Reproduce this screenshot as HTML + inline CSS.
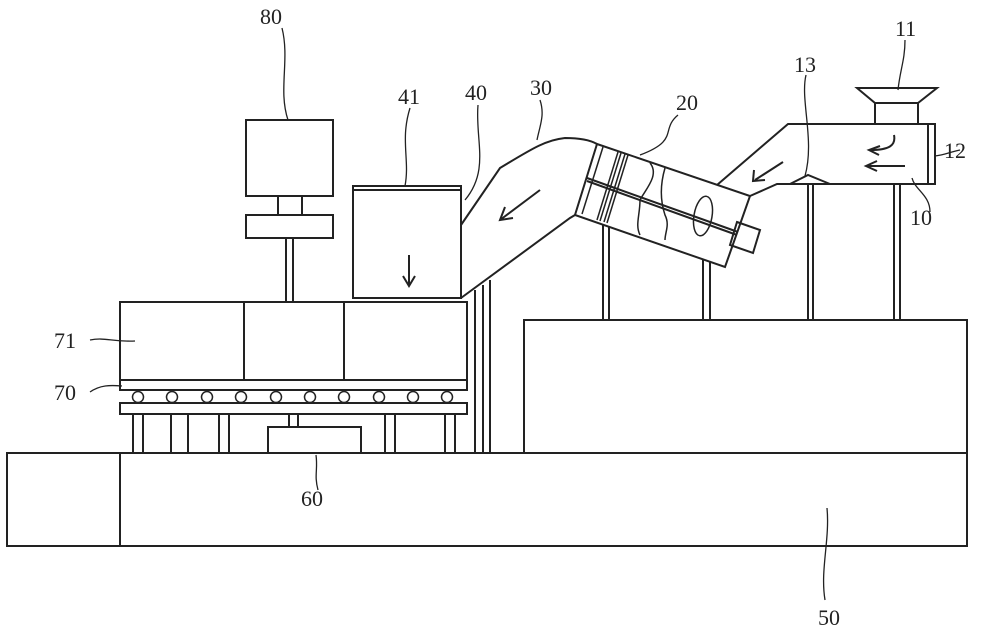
<!DOCTYPE html>
<html><head><style>body{margin:0;background:#fff}svg{display:block}text{font-family:"Liberation Serif",serif;font-size:22px;fill:#222}</style></head><body>
<svg width="1000" height="634" viewBox="0 0 1000 634" fill="none" stroke="#222" stroke-width="2">
<!-- base 50 -->
<rect x="7" y="453" width="960" height="93"/>
<line x1="120" y1="453" x2="120" y2="546"/>
<!-- right platform -->
<rect x="524" y="320" width="443" height="133"/>
<!-- left conveyor assembly -->
<rect x="120" y="302" width="347" height="78"/>
<line x1="244" y1="302" x2="244" y2="380"/><line x1="344" y1="302" x2="344" y2="380"/>
<rect x="120" y="380" width="347" height="10"/>
<g stroke-width="1.5">
<circle cx="138" cy="397" r="5.5"/><circle cx="172" cy="397" r="5.5"/><circle cx="207" cy="397" r="5.5"/><circle cx="241" cy="397" r="5.5"/><circle cx="276" cy="397" r="5.5"/><circle cx="310" cy="397" r="5.5"/><circle cx="344" cy="397" r="5.5"/><circle cx="379" cy="397" r="5.5"/><circle cx="413" cy="397" r="5.5"/><circle cx="447" cy="397" r="5.5"/>
</g>
<rect x="120" y="403" width="347" height="11"/>
<rect x="133" y="414" width="10" height="39"/><rect x="171" y="414" width="17" height="39"/><rect x="219" y="414" width="10" height="39"/><rect x="385" y="414" width="10" height="39"/><rect x="445" y="414" width="10" height="39"/>
<rect x="268" y="427" width="93" height="26"/><rect x="289" y="414" width="9" height="13"/>
<line x1="475" y1="290" x2="475" y2="453"/>
<!-- 80 -->
<rect x="246" y="120" width="87" height="76"/>
<rect x="278" y="196" width="24" height="19"/>
<rect x="246" y="215" width="87" height="23"/>
<rect x="286" y="238" width="7" height="64"/>
<!-- 41 -->
<rect x="353" y="186" width="108" height="112"/>
<line x1="353" y1="190" x2="461" y2="190"/>
<line x1="409" y1="255" x2="409" y2="285"/><polyline points="403,276 409,286 415,276"/>
<!-- duct 30 -->
<path d="M461,225 L500,168 C530,150 545,140 565,138 C580,138 590,140 597,144"/>
<path d="M461,298 L570,218 L575,215"/>
<line x1="461" y1="200" x2="461" y2="298"/>
<line x1="540" y1="190" x2="500" y2="220"/><polyline points="505,207 500,220 513,218"/>
<line x1="483" y1="285" x2="483" y2="453"/><line x1="490" y1="280" x2="490" y2="453"/>
<!-- unit 20 -->
<polygon points="597,144 750,196 725,267 575,215"/>
<line x1="587" y1="178" x2="738" y2="232"/><line x1="587" y1="181" x2="737" y2="235"/>
<g stroke-width="1.5">
<line x1="603" y1="147" x2="582" y2="214"/>
<line x1="618" y1="152" x2="597" y2="220"/><line x1="621" y1="153" x2="600" y2="221"/><line x1="625" y1="154" x2="604" y2="222"/><line x1="628" y1="155" x2="607" y2="223"/>
<path d="M650,163 C660,175 645,190 640,200 C640,215 635,225 640,235"/>
<path d="M665,168 C660,185 660,200 665,215 C670,225 665,232 665,240"/>
<ellipse cx="703" cy="216" rx="9" ry="20" transform="rotate(10 703 216)"/>
</g>
<polygon points="737,222 760,230 753,253 730,245"/>
<!-- legs under 20 -->
<line x1="603" y1="225" x2="603" y2="320"/><line x1="609" y1="227" x2="609" y2="320"/>
<line x1="703" y1="260" x2="703" y2="320"/><line x1="710" y1="262" x2="710" y2="320"/>
<!-- right duct and box 10 -->
<polyline points="717,185 788,124 935,124"/>
<polyline points="750,196 777,184 928,184"/>
<rect x="928" y="124" width="7" height="60"/>
<polygon points="790,184 808,175 830,184"/>
<line x1="783" y1="162" x2="755" y2="180"/><polyline points="754,170 753,181 765,180"/>
<line x1="905" y1="166" x2="867" y2="166"/><polyline points="877,161 866,166 877,171"/>
<path d="M894,135 C896,145 890,150 870,150"/><polyline points="880,146 869,150 879,155"/>
<polyline points="875,124 875,103 918,103 918,124"/>
<polygon points="857,88 937,88 918,103 875,103"/>
<line x1="808" y1="184" x2="808" y2="320"/><line x1="813" y1="184" x2="813" y2="320"/>
<line x1="894" y1="184" x2="894" y2="320"/><line x1="900" y1="184" x2="900" y2="320"/>
<!-- leaders -->
<g stroke-width="1.3">
<path d="M282,28 C290,60 278,90 288,120"/>
<path d="M410,108 C400,140 410,160 405,186"/>
<path d="M478,105 C475,140 490,170 465,200"/>
<path d="M540,100 C545,115 540,125 537,140"/>
<path d="M678,115 C660,130 680,140 640,155"/>
<path d="M806,75 C800,100 815,140 805,176"/>
<path d="M905,40 C905,60 900,70 898,90"/>
<path d="M960,150 C950,152 945,155 935,156"/>
<path d="M912,178 C915,190 930,195 930,212"/>
<path d="M90,340 C105,337 112,342 135,341"/>
<path d="M90,392 C100,385 110,385 122,386"/>
<path d="M316,455 C318,470 314,475 318,490"/>
<path d="M827,508 C830,540 820,570 825,600"/>
</g>
<g stroke="none">
<text x="260" y="24">80</text><text x="398" y="104">41</text><text x="465" y="100">40</text><text x="530" y="95">30</text><text x="676" y="110">20</text><text x="794" y="72">13</text><text x="895" y="36">11</text><text x="944" y="158">12</text><text x="910" y="225">10</text><text x="54" y="348">71</text><text x="54" y="400">70</text><text x="301" y="506">60</text><text x="818" y="625">50</text>
</g>
</svg>
</body></html>
